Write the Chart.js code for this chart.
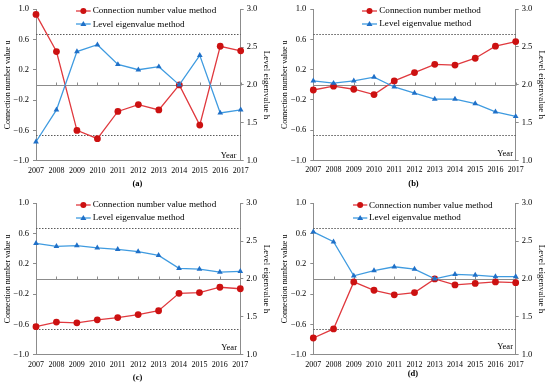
<!DOCTYPE html>
<html><head><meta charset="utf-8">
<script src="https://cdn.jsdelivr.net/npm/chart.js@4.4.1/dist/chart.umd.min.js"></script>
<style>
html,body{margin:0;padding:0;background:#fff;width:550px;height:387px;overflow:hidden;font-family:"Liberation Serif","Times New Roman",serif;}
canvas{position:absolute;}
.lab{position:absolute;white-space:nowrap;color:#000;line-height:1;}
svg{position:absolute;overflow:visible;}
</style></head><body>
<canvas id="ca"></canvas><canvas id="cb"></canvas><canvas id="cc"></canvas><canvas id="cd"></canvas>
<div id="overlay"></div>
<script>
// ---------- data ----------
const years = ['2007','2008','2009','2010','2011','2012','2013','2014','2015','2016','2017'];
const uTicks = [-1.0, -0.6, -0.2, 0.2, 0.6, 1.0];
const hTicks = [1.0, 1.5, 2.0, 2.5, 3.0];
const thresholdHi = 0.667;
const thresholdLo = -0.667;

const cnA = [0.93, 0.44, -0.60, -0.71, -0.35, -0.26, -0.33, 0.00, -0.53, 0.51, 0.45];
const leA = [1.25, 1.67, 2.44, 2.53, 2.27, 2.20, 2.24, 2.00, 2.39, 1.63, 1.67];

const cnB = [-0.07, -0.02, -0.06, -0.13, 0.05, 0.16, 0.27, 0.26, 0.35, 0.51, 0.57];
const leB = [2.05, 2.02, 2.05, 2.10, 1.97, 1.89, 1.81, 1.81, 1.75, 1.64, 1.58];

const cnC = [-0.63, -0.57, -0.58, -0.54, -0.51, -0.47, -0.42, -0.19, -0.18, -0.11, -0.13];
const leC = [2.47, 2.43, 2.44, 2.41, 2.39, 2.36, 2.31, 2.14, 2.13, 2.09, 2.10];

const cnD = [-0.78, -0.66, -0.04, -0.15, -0.21, -0.18, 0.00, -0.08, -0.06, -0.04, -0.05];
const leD = [2.62, 2.49, 2.04, 2.11, 2.16, 2.13, 2.00, 2.06, 2.05, 2.03, 2.03];

const cnNameA = 'Connection number value method';
const cnNameB = 'Connection number method';
const leName = 'Level eigenvalue method';
const uTitle = 'Connection number value u';
const hTitle = 'Level eigenvalue h';
const yearLabel = 'Year';
const captions = ['(a)', '(b)', '(c)', '(d)'];

// ---------- style ----------
const FONT = '"Liberation Serif","Times New Roman",serif';
const axisGrey = '#8c8c8c';
const dashGrey = '#5a5a5a';
const redLine = '#e0393e', redMark = '#cc1111';
const blueLine = '#3f9be0', blueMark = '#1f70c8';

const refLines = {
  id: 'refLines',
  beforeDatasetsDraw(chart) {
    const {ctx, chartArea, scales} = chart;
    const y = scales.y, x = scales.x;
    ctx.save();
    ctx.lineWidth = 1;
    ctx.strokeStyle = dashGrey;
    ctx.setLineDash([1.5, 1.5]);
    [thresholdHi, thresholdLo].forEach(v => {
      const py = Math.round(y.getPixelForValue(v)) + 0.5;
      ctx.beginPath(); ctx.moveTo(chartArea.left, py); ctx.lineTo(chartArea.right, py); ctx.stroke();
    });
    ctx.setLineDash([]);
    ctx.strokeStyle = axisGrey;
    const p0 = Math.round(y.getPixelForValue(0)) + 0.5;
    ctx.beginPath(); ctx.moveTo(chartArea.left, p0); ctx.lineTo(chartArea.right, p0); ctx.stroke();
    years.forEach((_, i) => {
      const px = Math.round(x.getPixelForValue(i)) + 0.5;
      ctx.beginPath(); ctx.moveTo(px, p0); ctx.lineTo(px, p0 - 3); ctx.stroke();
    });
    ctx.restore();
  }
};

const fmt = v => Number(v).toFixed(1).replace('-', '\u2212');

function makeChart(id, cn, le, cnName, L) {
  const cv = document.getElementById(id);
  cv.width = L.cw; cv.height = L.ch;
  cv.style.left = L.cl + 'px'; cv.style.top = L.ct + 'px';
  cv.style.width = L.cw + 'px'; cv.style.height = L.ch + 'px';
  const tickFont = {family: FONT, size: 8.5};
  return new Chart(cv, {
    type: 'line',
    data: {
      labels: years,
      datasets: [
        {label: cnName, data: cn, yAxisID: 'y', borderColor: redLine, backgroundColor: redMark,
         pointBackgroundColor: redMark, pointBorderColor: redMark, pointStyle: 'circle', pointRadius: 3.4,
         pointBorderWidth: 0, borderWidth: 1.3, tension: 0, order: 2},
        {label: leName, data: le, yAxisID: 'y1', borderColor: blueLine, backgroundColor: blueMark,
         pointBackgroundColor: blueMark, pointBorderColor: blueMark, pointStyle: 'triangle', pointRadius: 3.3,
         pointBorderWidth: 0, borderWidth: 1.3, tension: 0, order: 1}
      ]
    },
    options: {
      responsive: false, animation: false, devicePixelRatio: 1,
      layout: {padding: {top: L.pt - L.ct, left: 0, right: 0, bottom: 0}},
      plugins: {legend: {display: false}, tooltip: {enabled: false}},
      scales: {
        x: {
          type: 'category', offset: false,
          grid: {display: false, drawTicks: false, tickLength: 0},
          border: {display: true, color: axisGrey, width: 1},
          ticks: {font: {family: FONT, size: 8}, color: '#000', padding: 5, maxRotation: 0, autoSkip: false},
          afterFit: s => { s.height = L.ct + L.ch - L.pb; }
        },
        y: {
          position: 'left', min: -1, max: 1,
          afterBuildTicks: s => { s.ticks = uTicks.map(v => ({value: v})); },
          ticks: {callback: v => fmt(v), font: tickFont, color: '#000', padding: 4},
          grid: {drawOnChartArea: false, drawTicks: true, tickLength: 3, tickColor: axisGrey},
          border: {display: true, color: axisGrey, width: 1},
          title: {display: true, text: uTitle, font: {family: FONT, size: 8}, color: '#000', padding: {top: 2.7, bottom: 0}},
          afterFit: s => { s.width = L.pl - L.cl; }
        },
        y1: {
          position: 'right', min: 1, max: 3,
          afterBuildTicks: s => { s.ticks = hTicks.map(v => ({value: v})); },
          ticks: {callback: v => fmt(v), font: tickFont, color: '#000', padding: 3},
          grid: {drawOnChartArea: false, drawTicks: true, tickLength: 3, tickColor: axisGrey},
          border: {display: true, color: axisGrey, width: 1},
          title: {display: true, text: hTitle, font: {family: FONT, size: 9}, color: '#000', padding: {top: 3.5, bottom: 0}},
          afterFit: s => { s.width = L.cl + L.cw - L.pr; }
        }
      }
    },
    plugins: [refLines]
  });
}

const layouts = [
  {cl: 0,   ct: 0,   cw: 275, ch: 178, pl: 36,    pr: 240.7, pt: 5,     pb: 160.7,
   leg: {lx: 76, tx: 92.7, y1: 10.7, y2: 24.3}, cap: {x: 137.5, y: 183}, year: {r: 236.7, y: 155}},
  {cl: 277, ct: 0,   cw: 273, ch: 178, pl: 313.3, pr: 515.7, pt: 5,     pb: 160.3,
   leg: {lx: 362.3, tx: 379.3, y1: 11, y2: 24}, cap: {x: 413.3, y: 183}, year: {r: 513.3, y: 153.5}},
  {cl: 0,   ct: 194, cw: 275, ch: 178, pl: 36,    pr: 240.3, pt: 199.3, pb: 354.7,
   leg: {lx: 76, tx: 92.7, y1: 205, y2: 218}, cap: {x: 137.3, y: 377}, year: {r: 237.3, y: 347.3}},
  {cl: 277, ct: 194, cw: 273, ch: 178, pl: 313.3, pr: 515.7, pt: 200,   pb: 354.7,
   leg: {lx: 352.7, tx: 369, y1: 205.3, y2: 218}, cap: {x: 412.7, y: 373}, year: {r: 513.3, y: 346.7}}
];

const panels = [
  ['ca', cnA, leA, cnNameA],
  ['cb', cnB, leB, cnNameB],
  ['cc', cnC, leC, cnNameA],
  ['cd', cnD, leD, cnNameA]
];

const ov = document.getElementById('overlay');
const NS = 'http://www.w3.org/2000/svg';
function addText(txt, x, y, size, opts = {}) {
  const d = document.createElement('div');
  d.className = 'lab';
  d.textContent = txt;
  d.style.fontSize = size + 'px';
  if (opts.bold) d.style.fontWeight = 'bold';
  d.style.top = (y - size / 2) + 'px';
  ov.appendChild(d);
  if (opts.align === 'center') d.style.left = (x - d.offsetWidth / 2) + 'px';
  else if (opts.align === 'right') d.style.left = (x - d.offsetWidth) + 'px';
  else d.style.left = x + 'px';
  return d;
}
function addSymbol(x, y, w, lineCol, markCol, kind) {
  const s = document.createElementNS(NS, 'svg');
  s.setAttribute('width', w); s.setAttribute('height', 8);
  s.style.left = x + 'px'; s.style.top = (y - 4) + 'px';
  const ln = document.createElementNS(NS, 'line');
  ln.setAttribute('x1', 0); ln.setAttribute('x2', w); ln.setAttribute('y1', 4); ln.setAttribute('y2', 4);
  ln.setAttribute('stroke', lineCol); ln.setAttribute('stroke-width', 1.3);
  s.appendChild(ln);
  let m;
  if (kind === 'circle') {
    m = document.createElementNS(NS, 'circle');
    m.setAttribute('cx', w / 2); m.setAttribute('cy', 4); m.setAttribute('r', 3);
  } else {
    m = document.createElementNS(NS, 'polygon');
    const c = w / 2;
    m.setAttribute('points', `${c},1 ${c - 3},6 ${c + 3},6`);
  }
  m.setAttribute('fill', markCol);
  s.appendChild(m);
  ov.appendChild(s);
}

panels.forEach((p, i) => {
  const L = layouts[i];
  makeChart(p[0], p[1], p[2], p[3], L);
  addSymbol(L.leg.lx, L.leg.y1, L.leg.tx - L.leg.lx - 2, redLine, redMark, 'circle');
  addText(p[3], L.leg.tx, L.leg.y1, 9.1);
  addSymbol(L.leg.lx, L.leg.y2, L.leg.tx - L.leg.lx - 2, blueLine, blueMark, 'triangle');
  addText(leName, L.leg.tx, L.leg.y2, 9.1);
  addText(yearLabel, L.year.r, L.year.y, 8.5, {align: 'right'});
  addText(captions[i], L.cap.x, L.cap.y, 8.5, {align: 'center', bold: true});
});
</script>
</body></html>
